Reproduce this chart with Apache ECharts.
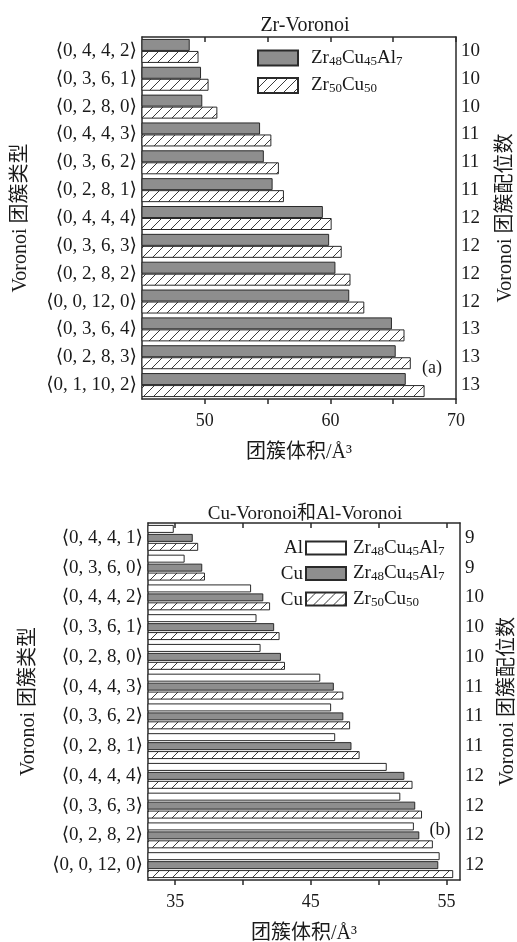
<!DOCTYPE html>
<html>
<head>
<meta charset="utf-8">
<script src="https://cdn.jsdelivr.net/npm/echarts@6/dist/echarts.min.js"></script>
<style>
html,body{margin:0;padding:0;background:#fff;}
#chart{width:517px;height:942px;}
</style>
</head>
<body>
<div id="chart"></div>
<script>
// ---------- data ----------
const clustersA = ['⟨0, 4, 4, 2⟩','⟨0, 3, 6, 1⟩','⟨0, 2, 8, 0⟩','⟨0, 4, 4, 3⟩','⟨0, 3, 6, 2⟩','⟨0, 2, 8, 1⟩','⟨0, 4, 4, 4⟩','⟨0, 3, 6, 3⟩','⟨0, 2, 8, 2⟩','⟨0, 0, 12, 0⟩','⟨0, 3, 6, 4⟩','⟨0, 2, 8, 3⟩','⟨0, 1, 10, 2⟩'];
const coordA = ['10','10','10','11','11','11','12','12','12','12','13','13','13'];
const zrAlloy = [48.8, 49.7, 49.8, 54.4, 54.7, 55.4, 59.4, 59.9, 60.4, 61.5, 64.9, 65.2, 66.0];
const zrBinary = [49.5, 50.3, 51.0, 55.3, 55.9, 56.3, 60.1, 60.9, 61.6, 62.7, 65.9, 66.4, 67.5];
const ticksA = [50, 55, 60, 65, 70];
const labelsA = [50, 60, 70];

const clustersB = ['⟨0, 4, 4, 1⟩','⟨0, 3, 6, 0⟩','⟨0, 4, 4, 2⟩','⟨0, 3, 6, 1⟩','⟨0, 2, 8, 0⟩','⟨0, 4, 4, 3⟩','⟨0, 3, 6, 2⟩','⟨0, 2, 8, 1⟩','⟨0, 4, 4, 4⟩','⟨0, 3, 6, 3⟩','⟨0, 2, 8, 2⟩','⟨0, 0, 12, 0⟩'];
const coordB = ['9','9','10','10','10','11','11','11','12','12','12','12'];
const alAlloy = [34.9, 35.7, 40.6, 41.0, 41.3, 45.7, 46.5, 46.8, 50.6, 51.6, 52.6, 54.5];
const cuAlloy = [36.3, 37.0, 41.5, 42.3, 42.8, 46.7, 47.4, 48.0, 51.9, 52.7, 53.0, 54.4];
const cuBinary = [36.7, 37.2, 42.0, 42.7, 43.1, 47.4, 47.9, 48.6, 52.5, 53.2, 54.0, 55.5];
const ticksB = [35, 40, 45, 50, 55];
const labelsB = [35, 45, 55];

const legendPrefixes = ['Al', 'Cu', 'Cu'];

// ---------- style ----------
const FONT = "'Liberation Serif','DejaVu Serif','Noto Sans CJK SC',serif";
const TXT = '#1a1a1a';
const LINE = '#2a2a2a';
const GRAY = '#8e8e8e';

function hatch() {
  const c = document.createElement('canvas');
  c.width = 10; c.height = 10;
  const g = c.getContext('2d');
  g.fillStyle = '#fff'; g.fillRect(0, 0, 10, 10);
  g.strokeStyle = '#3a3a3a'; g.lineWidth = 1;
  g.beginPath();
  g.moveTo(0, 10); g.lineTo(10, 0);
  g.moveTo(-5, 5); g.lineTo(5, -5);
  g.moveTo(5, 15); g.lineTo(15, 5);
  g.stroke();
  return { image: c, repeat: 'repeat' };
}
const HATCH = hatch();

function richName(name) {
  const n = name.indexOf('-') >= 0 ? name.split('-')[1] : name;
  return n.replace(/([A-Za-z]+)(\d+)/g, '{n|$1}{s|$2}');
}
const legendRich = {
  n: { fontSize: 19, fontFamily: FONT, color: TXT, lineHeight: 20 },
  s: { fontSize: 13, fontFamily: FONT, color: TXT, lineHeight: 12, verticalAlign: 'bottom' }
};

function xAxes(grid, min, max, ticks, labels) {
  const lineStyle = { color: LINE, width: 1.5 };
  return [
    {
      type: 'value', gridIndex: grid, position: 'bottom', min: min, max: max,
      axisLine: { show: true, lineStyle },
      axisTick: { show: true, inside: false, length: 5, customValues: ticks, lineStyle },
      axisLabel: { customValues: labels, margin: 13, fontSize: 18, fontFamily: FONT, color: TXT },
      splitLine: { show: false },
      name: '团簇体积/Å³', nameLocation: 'middle', nameGap: 44,
      nameTextStyle: { fontSize: 20, fontFamily: FONT, color: TXT }
    },
    {
      type: 'value', gridIndex: grid, position: 'top', min: min, max: max,
      axisLine: { show: true, lineStyle },
      axisTick: { show: true, inside: true, length: 5, customValues: ticks, lineStyle },
      axisLabel: { show: false },
      splitLine: { show: false }
    }
  ];
}

function yAxes(grid, cats, coords, gapL, gapR) {
  const lineStyle = { color: LINE, width: 1.5 };
  return [
    {
      type: 'category', gridIndex: grid, position: 'left', inverse: true, data: cats,
      axisLine: { show: true, lineStyle }, axisTick: { show: false },
      axisLabel: { margin: 5, fontSize: 19, fontFamily: FONT, color: TXT },
      name: 'Voronoi 团簇类型', nameLocation: 'middle', nameGap: gapL, nameRotate: 90,
      nameTextStyle: { fontSize: 20, fontFamily: FONT, color: TXT }
    },
    {
      type: 'category', gridIndex: grid, position: 'right', inverse: true, data: cats,
      axisLine: { show: true, lineStyle }, axisTick: { show: false },
      axisLabel: { margin: 5, fontSize: 19, fontFamily: FONT, color: TXT,
        formatter: (v, i) => coords[i] },
      name: 'Voronoi 团簇配位数', nameLocation: 'middle', nameGap: gapR, nameRotate: 90,
      nameTextStyle: { fontSize: 20, fontFamily: FONT, color: TXT }
    }
  ];
}

const border = { borderColor: LINE, borderWidth: 1 };

const option = {
  backgroundColor: '#fff',
  animation: false,
  title: [
    { text: 'Zr-Voronoi', left: 300, top: 11, textAlign: 'center',
      textStyle: { fontSize: 20, fontWeight: 'normal', fontFamily: FONT, color: TXT } },
    { text: 'Cu-Voronoi和Al-Voronoi', left: 300, top: 500, textAlign: 'center',
      textStyle: { fontSize: 19, fontWeight: 'normal', fontFamily: FONT, color: TXT } }
  ],
  grid: [
    { left: 142, width: 314, top: 37, height: 362, outerBoundsMode: 'none', containLabel: false },
    { left: 148, width: 312, top: 523, height: 357, outerBoundsMode: 'none', containLabel: false }
  ],
  xAxis: [].concat(xAxes(0, 45, 70, ticksA, labelsA), xAxes(1, 33, 56, ticksB, labelsB)),
  yAxis: [].concat(yAxes(0, clustersA, coordA, 111, 40), yAxes(1, clustersB, coordB, 109, 38)),
  legend: [
    {
      orient: 'vertical', left: 257, top: 48.5, padding: 0, itemWidth: 40, itemHeight: 15, itemGap: 8,
      icon: 'rect', selectedMode: false,
      data: ['Zr48Cu45Al7', 'Zr50Cu50'],
      formatter: richName,
      textStyle: { rich: legendRich, padding: [0, 0, 0, 8] }
    },
    {
      orient: 'vertical', left: 305, top: 538.5, padding: 0, itemWidth: 40, itemHeight: 13, itemGap: 6,
      icon: 'rect', selectedMode: false,
      data: ['Al-Zr48Cu45Al7', 'Cu-Zr48Cu45Al7', 'Cu-Zr50Cu50'],
      formatter: richName,
      textStyle: { rich: legendRich, padding: [0, 0, 0, 2] }
    }
  ],
  graphic: [
    { type: 'text', x: 432, y: 368, style: { text: '(a)', align: 'center', verticalAlign: 'middle', fontSize: 18, fontFamily: FONT, fill: TXT } },
    { type: 'text', x: 440, y: 830, style: { text: '(b)', align: 'center', verticalAlign: 'middle', fontSize: 18, fontFamily: FONT, fill: TXT } }
  ].concat(legendPrefixes.map((t, i) => ({
    type: 'text', x: 303, y: 548.5 + i * 26,
    style: { text: t, align: 'right', verticalAlign: 'middle', fontSize: 19, fontFamily: FONT, fill: TXT }
  }))),
  series: [
    { name: 'Zr48Cu45Al7', type: 'bar', xAxisIndex: 0, yAxisIndex: 0, data: zrAlloy,
      barWidth: 12, barGap: '0%', itemStyle: Object.assign({ color: GRAY }, border) },
    { name: 'Zr50Cu50', type: 'bar', xAxisIndex: 0, yAxisIndex: 0, data: zrBinary,
      barWidth: 12, barGap: '0%', itemStyle: Object.assign({ color: HATCH }, border) },
    { name: 'Al-Zr48Cu45Al7', type: 'bar', xAxisIndex: 2, yAxisIndex: 2, data: alAlloy,
      barWidth: 8, barGap: '12%', itemStyle: Object.assign({ color: '#ffffff' }, border) },
    { name: 'Cu-Zr48Cu45Al7', type: 'bar', xAxisIndex: 2, yAxisIndex: 2, data: cuAlloy,
      barWidth: 8, barGap: '12%', itemStyle: Object.assign({ color: GRAY }, border) },
    { name: 'Cu-Zr50Cu50', type: 'bar', xAxisIndex: 2, yAxisIndex: 2, data: cuBinary,
      barWidth: 8, barGap: '12%', itemStyle: Object.assign({ color: HATCH }, border) }
  ]
};

const chart = echarts.init(document.getElementById('chart'), null, { renderer: 'canvas' });
chart.setOption(option);
</script>
</body>
</html>
